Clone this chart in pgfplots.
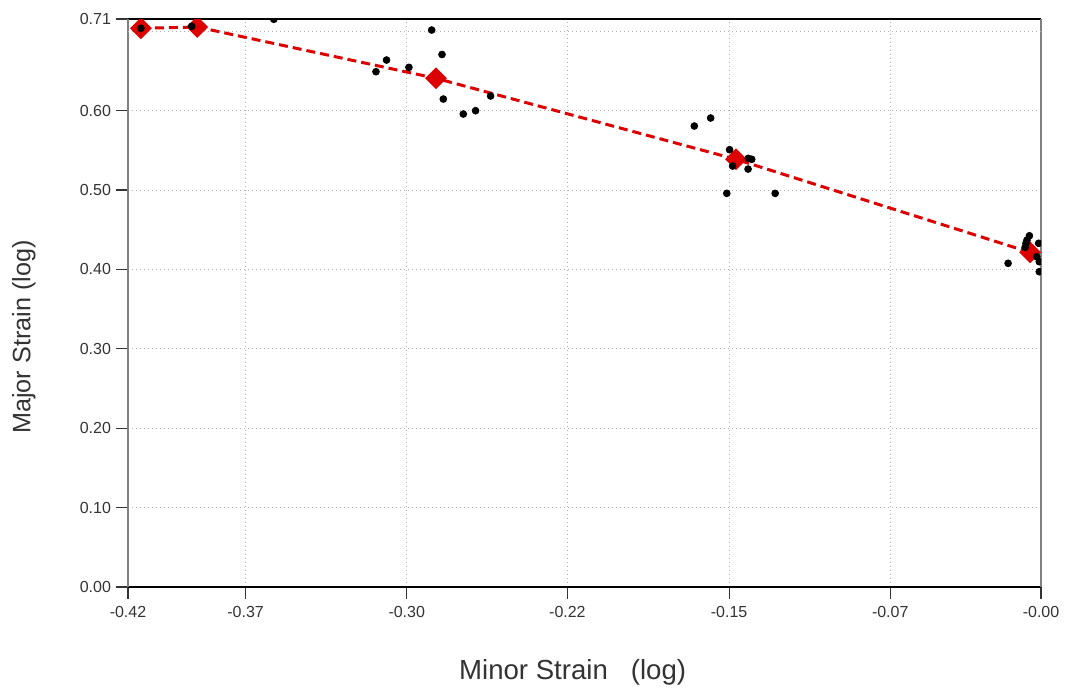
\documentclass[border=0pt]{standalone}
\usepackage{pgfplots}
\pgfplotsset{compat=1.18}
\usepackage{fontspec}
\setmainfont{Liberation Sans}
\definecolor{strainred}{HTML}{DD0000}
\definecolor{gridgray}{HTML}{B0B0B0}
\definecolor{txt}{HTML}{333333}

% measured points (minor, major)
\pgfplotstableread{
x y
-0.4185 0.7037
-0.3949 0.7062
-0.3567 0.7150
-0.3092 0.6490
-0.3043 0.6637
-0.2939 0.6545
-0.2833 0.7015
-0.2785 0.6707
-0.2779 0.6146
-0.2686 0.5957
-0.2629 0.5999
-0.2559 0.6184
-0.1612 0.5806
-0.1536 0.5907
-0.1448 0.5508
-0.1434 0.5302
-0.1361 0.5399
-0.1345 0.5387
-0.1362 0.5264
-0.1461 0.4958
-0.1236 0.4958
-0.0153 0.4077
-0.0074 0.4278
-0.0070 0.4329
-0.0065 0.4370
-0.0054 0.4424
-0.0020 0.4160
-0.0011 0.4329
-0.0008 0.4097
-0.0008 0.3971
}\points

% forming limit curve
\pgfplotstableread{
x y
-0.4185 0.7037
-0.3923 0.7053
-0.2813 0.6407
-0.1418 0.5387
-0.0051 0.4215
}\limitcurve

\begin{document}
\begin{tikzpicture}
\begin{axis}[
  width=456.5pt, height=284pt, scale only axis,
  xmin=-0.4245, xmax=0, ymin=0, ymax=0.7154,
  separate axis lines,
  x axis line style={black, line width=0.8pt},
  y axis line style={gray, line width=1pt},
  tick align=outside,
  xtick pos=lower, ytick pos=left,
  major tick length=6pt,
  tick style={black!80, line width=0.6pt},
  xtick={-0.4245,-0.3698,-0.2949,-0.2202,-0.1450,-0.0701,0},
  xticklabels={-0.42,-0.37,-0.30,-0.22,-0.15,-0.07,-0.00},
  ytick={0,0.1,0.2,0.3,0.4,0.5,0.6,0.7154},
  yticklabels={0.00,0.10,0.20,0.30,0.40,0.50,0.60,0.71},
  extra y ticks={0.7},
  extra y tick labels={},
  extra y tick style={major tick length=0pt, grid=major},
  ticklabel style={font=\fontsize{8}{9.6}\selectfont, text=txt},
  yticklabel style={xshift=1pt},
  grid=major,
  major grid style={gridgray, line width=0.5pt, dash pattern=on 0.6pt off 1.4pt},
  xlabel={Minor Strain\ \ \ (log)},
  ylabel={Major Strain (log)},
  xlabel style={font=\fontsize{13.8}{16}\selectfont, text=txt,
    at={(axis description cs:0.487,-0.15)}, anchor=center},
  ylabel style={font=\fontsize{12.6}{15}\selectfont, text=txt,
    at={(axis description cs:-0.114,0.44)}, anchor=center},
  clip marker paths=true,
]
\addplot[strainred, line width=1.5pt, dash pattern=on 4.5pt off 2.5pt,
  mark=square*, mark size=3.1pt, mark options={rotate=45, solid, fill=strainred, draw=strainred}]
  table {\limitcurve};
\addplot[only marks, mark=*, mark size=1.7pt, black] table {\points};
\end{axis}
\path ([shift={(-64pt,-51pt)}]current axis.south west) rectangle ([shift={(14pt,9.5pt)}]current axis.north east);
\end{tikzpicture}
\end{document}
